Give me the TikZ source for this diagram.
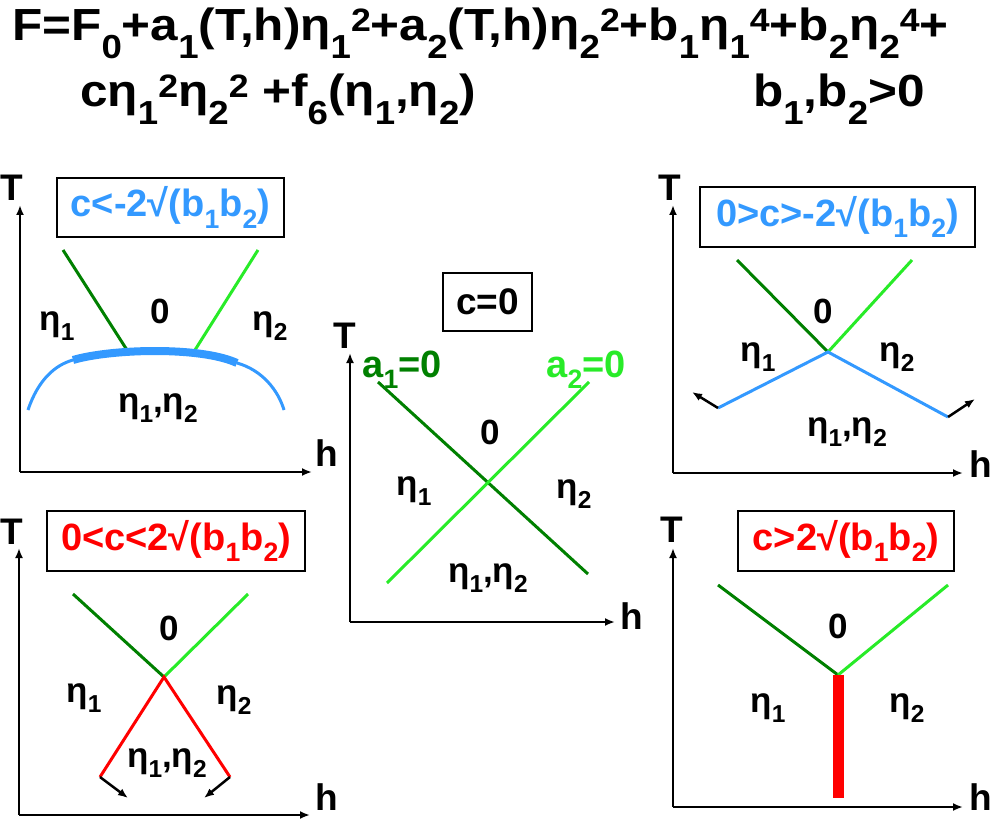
\documentclass[tikz,border=0pt]{standalone}
\usepackage{fontspec}
\setmainfont{Liberation Sans}
\newfontfamily\titlefont[FakeStretch=1.1]{Liberation Sans}
\usetikzlibrary{arrows.meta}
\definecolor{dkgreen}{RGB}{0,128,0}
\definecolor{ltgreen}{RGB}{40,235,40}
\definecolor{skyblue}{RGB}{51,153,255}
\definecolor{pred}{RGB}{255,0,0}
\newcommand\sbs[1]{\raisebox{-0.3em}{\scalebox{0.7}{#1}}}
\newcommand\sps[1]{\raisebox{0.25em}{\scalebox{0.7}{#1}}}
\newcommand\tsb[1]{\raisebox{-0.4em}{\scalebox{0.74}{#1}}}
\newcommand\tsp[1]{\raisebox{0.22em}{\scalebox{0.72}{#1}}}
\tikzset{
  axis/.style={line width=2.5pt,-{Latex[length=10pt,width=8pt]}},
  smallarrow/.style={line width=2.5pt,-{Latex[length=10pt,width=8pt]}},
  cbox/.style={draw,line width=2.5pt,inner sep=0pt,font=\fontsize{38}{42}\selectfont\bfseries},
  lbl/.style={inner sep=0pt,font=\fontsize{35}{38}\selectfont\bfseries},
  axlbl/.style={inner sep=0pt,font=\fontsize{37}{40}\selectfont\bfseries},
  ttl/.style={inner sep=0pt,anchor=base west,font=\titlefont\fontsize{45}{50}\selectfont\bfseries},
  gl1/.style={dkgreen,line width=3pt},
  gl2/.style={ltgreen,line width=3pt},
  bl/.style={skyblue,line width=3pt},
  rl/.style={pred,line width=3pt},
}
\begin{document}
\begin{tikzpicture}[x=1pt,y=-1pt]
\useasboundingbox (0,0) rectangle (1000,826);
% ---------- title ----------
\node[ttl] (t1) at (12,41) {F=F\tsb{0}+a\tsb{1}(T,h)η\tsb{1}\tsp{2}+a\tsb{2}(T,h)η\tsb{2}\tsp{2}+b\tsb{1}η\tsb{1}\tsp{4}+b\tsb{2}η\tsb{2}\tsp{4}+};
\node[ttl] (t2) at (80,107) {cη\tsb{1}\tsp{2}η\tsb{2}\tsp{2} +f\tsb{6}(η\tsb{1},η\tsb{2})};
\node[ttl] (t3) at (753,107) {b\tsb{1},b\tsb{2}>0};

% ---------- panel A: c < -2 sqrt ----------
\coordinate (Ao) at (20,472);
\coordinate (AT) at (20,205);
\coordinate (Ah) at (312,472);
\draw[axis] (Ao) -- (AT);
\draw[axis] (Ao) -- (Ah);
\node[axlbl] (ATl) at (12,188) {T};
\node[axlbl] (Ahl) at (327,453) {h};
\node[cbox,text=skyblue,minimum width=227,minimum height=59] (Abox) at (170.5,207.5) {c<-2√(b\sbs{1}b\sbs{2})};
\coordinate (Ag1) at (63,250);
\coordinate (Ag1e) at (127,350);
\coordinate (Ag2) at (258,250);
\coordinate (Ag2e) at (195,350);
\draw[gl1] (Ag1) -- (Ag1e);
\draw[gl2] (Ag2) -- (Ag2e);
\coordinate (Ab0) at (28,410);
\coordinate (Ab1) at (73,360);
\coordinate (Ab2) at (237,363);
\coordinate (Ab3) at (284,410);
\draw[bl] (Ab0) .. controls (38,380) and (55,365) .. (Ab1);
\draw[skyblue,line width=8pt] (Ab1) .. controls (110,349) and (200,346) .. (Ab2);
\draw[bl] (Ab2) .. controls (262,370) and (278,390) .. (Ab3);
\node[lbl] (Al1) at (57,326) {η\sbs{1}};
\node[lbl] (Al0) at (160,311) {0};
\node[lbl] (Al2) at (270,326) {η\sbs{2}};
\node[lbl] (Al12) at (158,408) {η\sbs{1},η\sbs{2}};

% ---------- panel B: c = 0 ----------
\coordinate (Bo) at (350,622);
\coordinate (BT) at (350,353);
\coordinate (Bh) at (615,622);
\draw[axis] (Bo) -- (BT);
\draw[axis] (Bo) -- (Bh);
\node[axlbl] (BTl) at (345,336) {T};
\node[axlbl] (Bhl) at (632,616) {h};
\node[cbox,minimum width=89,minimum height=58,font=\fontsize{37}{40}\selectfont\bfseries] (Bbox) at (487.5,302) {c=0};
\node[lbl,text=dkgreen,font=\fontsize{38}{42}\selectfont\bfseries] (Ba1) at (402,370) {a\sbs{1}=0};
\node[lbl,text=ltgreen,font=\fontsize{38}{42}\selectfont\bfseries] (Ba2) at (586,370) {a\sbs{2}=0};
\coordinate (Bg1) at (378,382);
\coordinate (Bg1e) at (588,574);
\coordinate (Bg2) at (589,382);
\coordinate (Bg2e) at (387,583);
\draw[gl1] (Bg1) -- (Bg1e);
\draw[gl2] (Bg2e) -- (Bg2);
\node[lbl] (Bl0) at (490,432) {0};
\node[lbl] (Bl1) at (414,491) {η\sbs{1}};
\node[lbl] (Bl2) at (574,494) {η\sbs{2}};
\node[lbl] (Bl12) at (488,578) {η\sbs{1},η\sbs{2}};

% ---------- panel C: 0 > c > -2 sqrt ----------
\coordinate (Co) at (673,473);
\coordinate (CT) at (673,205);
\coordinate (Ch) at (963,473);
\draw[axis] (Co) -- (CT);
\draw[axis] (Co) -- (Ch);
\node[axlbl] (CTl) at (670,188) {T};
\node[axlbl] (Chl) at (981,464) {h};
\node[cbox,text=skyblue,minimum width=275,minimum height=60] (Cbox) at (837.5,217) {0>c>-2√(b\sbs{1}b\sbs{2})};
\coordinate (Cx) at (828,352);
\coordinate (Cg1) at (737,260);
\coordinate (Cg2) at (912,260);
\coordinate (Cb1) at (718,408);
\coordinate (Cb2) at (948,417);
\coordinate (Ca1) at (692,392);
\coordinate (Ca2) at (975,399);
\draw[gl1] (Cg1) -- (Cx);
\draw[gl2] (Cg2) -- (Cx);
\draw[bl] (Cb1) -- (Cx) -- (Cb2);
\draw[smallarrow] (Cb1) -- (Ca1);
\draw[smallarrow] (Cb2) -- (Ca2);
\node[lbl] (Cl0) at (823,311) {0};
\node[lbl] (Cl1) at (758,357) {η\sbs{1}};
\node[lbl] (Cl2) at (897,357) {η\sbs{2}};
\node[lbl] (Cl12) at (847,432) {η\sbs{1},η\sbs{2}};

% ---------- panel D: 0 < c < 2 sqrt ----------
\coordinate (Do) at (19,815);
\coordinate (DT) at (19,548);
\coordinate (Dh) at (310,815);
\draw[axis] (Do) -- (DT);
\draw[axis] (Do) -- (Dh);
\node[axlbl] (DTl) at (12,532) {T};
\node[axlbl] (Dhl) at (327,797) {h};
\node[cbox,text=pred,minimum width=258,minimum height=60] (Dbox) at (176,541) {0<c<2√(b\sbs{1}b\sbs{2})};
\coordinate (Dx) at (164,677);
\coordinate (Dg1) at (73,594);
\coordinate (Dg2) at (248,594);
\coordinate (Dr1) at (100,777);
\coordinate (Dr2) at (230,777);
\coordinate (Da1) at (128,798);
\coordinate (Da2) at (204,798);
\draw[gl1] (Dg1) -- (Dx);
\draw[gl2] (Dg2) -- (Dx);
\draw[rl] (Dr1) -- (Dx) -- (Dr2);
\draw[smallarrow] (Dr1) -- (Da1);
\draw[smallarrow] (Dr2) -- (Da2);
\node[lbl] (Dl0) at (169,628) {0};
\node[lbl] (Dl1) at (84,698) {η\sbs{1}};
\node[lbl] (Dl2) at (234,700) {η\sbs{2}};
\node[lbl] (Dl12) at (167,763) {η\sbs{1},η\sbs{2}};

% ---------- panel E: c > 2 sqrt ----------
\coordinate (Eo) at (673,807);
\coordinate (ET) at (673,548);
\coordinate (Eh) at (963,807);
\draw[axis] (Eo) -- (ET);
\draw[axis] (Eo) -- (Eh);
\node[axlbl] (ETl) at (672,530) {T};
\node[axlbl] (Ehl) at (981,797) {h};
\node[cbox,text=pred,minimum width=216,minimum height=60] (Ebox) at (846,541) {c>2√(b\sbs{1}b\sbs{2})};
\coordinate (Ex) at (838,675);
\coordinate (Eg1) at (718,585);
\coordinate (Eg2) at (948,585);
\coordinate (Er) at (838,798);
\draw[gl1] (Eg1) -- (Ex);
\draw[gl2] (Eg2) -- (Ex);
\draw[pred,line width=11pt] (Ex) -- (Er);
\node[lbl] (El0) at (838,626) {0};
\node[lbl] (El1) at (768,708) {η\sbs{1}};
\node[lbl] (El2) at (907,708) {η\sbs{2}};
\end{tikzpicture}
\end{document}
